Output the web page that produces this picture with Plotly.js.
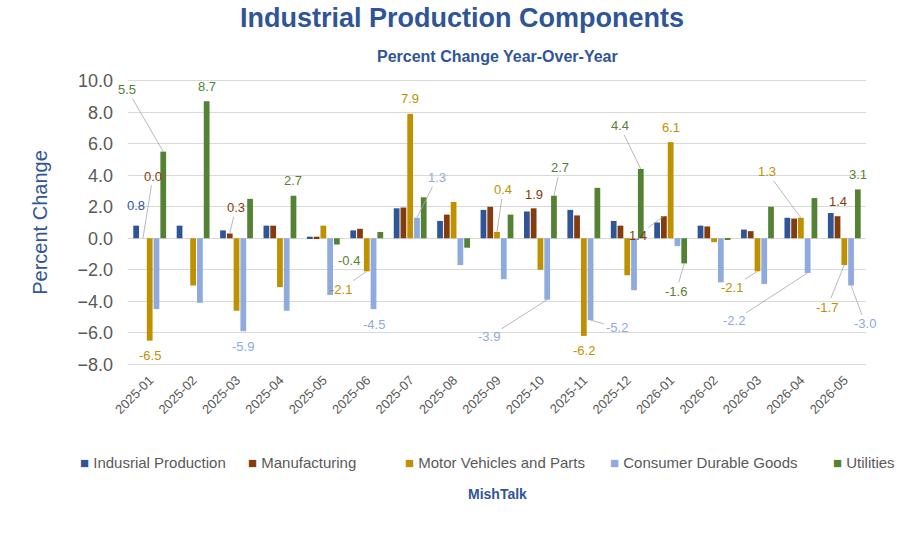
<!DOCTYPE html>
<html><head><meta charset="utf-8">
<script src="https://cdn.plot.ly/plotly-3.0.1.min.js"></script>
<style>body{margin:0}#plot{width:924px;height:533px}</style>
</head><body><div id="plot"></div>
<script>
// Data
const months = ['2025-01','2025-02','2025-03','2025-04','2025-05','2025-06','2025-07','2025-08','2025-09',
  '2025-10','2025-11','2025-12','2026-01','2026-02','2026-03','2026-04','2026-05'];
const seriesNames = ['Indusrial Production','Manufacturing','Motor Vehicles and Parts','Consumer Durable Goods','Utilities'];
const industrial = [0.8,0.8,0.5,0.8,0.1,0.5,1.9,1.1,1.8,1.7,1.8,1.1,1.0,0.8,0.55,1.3,1.6];
const manufacturing = [0.0,0.0,0.3,0.8,0.1,0.6,1.95,1.5,2.0,1.9,1.45,0.8,1.4,0.75,0.45,1.25,1.4];
const motorVehicles = [-6.5,-3.0,-4.6,-3.1,0.8,-2.1,7.9,2.3,0.4,-2.0,-6.2,-2.35,6.1,-0.25,-2.1,1.3,-1.7];
const consumerDurable = [-4.5,-4.1,-5.9,-4.6,-3.6,-4.5,1.3,-1.7,-2.6,-3.9,-5.2,-3.3,-0.5,-2.8,-2.9,-2.2,-3.0];
const utilities = [5.5,8.7,2.5,2.7,-0.4,0.4,2.6,-0.6,1.5,2.7,3.2,4.4,-1.6,-0.1,2.0,2.55,3.1];
const seriesValues = [industrial, manufacturing, motorVehicles, consumerDurable, utilities];
const colors = ['#2F5597','#843C0C','#BF9000','#8FAADC','#548235'];

// labels: [month index, series index, label offset x, offset y, leader line]
const labels = [
  [0,0,0,-20,false],[0,1,10,-62,true],[0,2,0,15,false],[0,4,-36,-62,true],
  [1,4,0,-15,false],[2,1,6,-26,true],[2,3,0,15,false],[3,4,0,-15,false],
  [4,4,12,16,false],[5,2,-26,18,true],[5,3,0,15,false],[6,2,0,-15,false],
  [6,3,20,-40,true],[8,2,6,-42,true],[9,1,0,-14,false],[9,4,6,-28,true],
  [9,3,-58,37,true],[10,2,0,15,false],[10,3,26,7,true],[11,4,-21,-43,true],
  [12,1,-26,19,true],[12,2,0,-15,false],[12,4,-8,28,true],[14,2,-25,16,true],
  [15,2,-34,-46,true],[15,3,-74,48,true],[16,1,0,-15,false],[16,2,-17,42,true],
  [16,3,14,38,true],[16,4,0,-15,false]
];

const xs = months.map((m, i) => i);
const bargap = 0.22;
const w = (1 - bargap) / 5;

const traces = seriesValues.map((vals, s) => ({
  type: 'bar', name: seriesNames[s], x: xs, y: vals,
  marker: { color: colors[s] }, hoverinfo: 'y'
}));

const annotations = labels.map(([m, s, ax, ay, line]) => ({
  x: m + (s - 2) * w, y: seriesValues[s][m], xref: 'x', yref: 'y',
  text: seriesValues[s][m].toFixed(1), showarrow: true, arrowhead: 0,
  arrowwidth: 0.8, arrowcolor: line ? '#a6a6a6' : 'rgba(0,0,0,0)',
  ax: ax, ay: ay, standoff: 0, startstandoff: 0,
  font: { size: 13, color: colors[s] }
}));
annotations.push({
  text: '<b>Percent Change Year-Over-Year</b>', xref: 'paper', yref: 'paper', x: 0.5, y: 1.03,
  yanchor: 'bottom', showarrow: false, font: { size: 16, color: '#2F5597' }
});
annotations.push({
  text: '<b>MishTalk</b>', xref: 'paper', yref: 'paper', x: 0.5, y: -0.46,
  showarrow: false, font: { size: 14, color: '#2F5597' }
});

// hand-placed legend row (plotly wraps its own legend at this width)
const legendX = [78, 246, 403, 608, 831];
seriesNames.forEach((n, s) => annotations.push({
  text: '<span style="color:' + colors[s] + '">■</span> ' + n,
  xref: 'paper', yref: 'paper', x: (legendX[s] - 128) / 738, y: -0.355,
  xanchor: 'left', showarrow: false, font: { size: 15, color: '#595959' }
}));

const layout = {
  width: 924, height: 533,
  font: { family: 'Liberation Sans, Arial, sans-serif', color: '#595959' },
  title: {
    text: '<b>Industrial Production Components</b>',
    font: { size: 27, color: '#2F5597' }, x: 0.5, y: 0.985, yref: 'container', yanchor: 'top'
  },
  margin: { l: 128, r: 58, t: 76, b: 164 },
  barmode: 'group', bargap: bargap, bargroupgap: 0.15,
  plot_bgcolor: 'white', paper_bgcolor: 'white',
  xaxis: {
    tickvals: xs, ticktext: months, tickangle: -45, range: [-0.5, 16.5],
    tickfont: { size: 13, color: '#595959' }, showgrid: false, zeroline: false
  },
  yaxis: {
    range: [-8.3, 10.3], tickvals: [-8,-6,-4,-2,0,2,4,6,8,10], tickformat: '.1f',
    tickfont: { size: 18, color: '#595959' }, gridcolor: '#d9d9d9', ticklabelstandoff: 14,
    zeroline: true, zerolinecolor: '#d9d9d9', zerolinewidth: 1,
    title: { text: 'Percent Change', font: { size: 20, color: '#2F5597' }, standoff: 24 }
  },
  annotations: annotations,
  showlegend: false
};

Plotly.newPlot('plot', traces, layout, { displayModeBar: false });
</script>
</body></html>
